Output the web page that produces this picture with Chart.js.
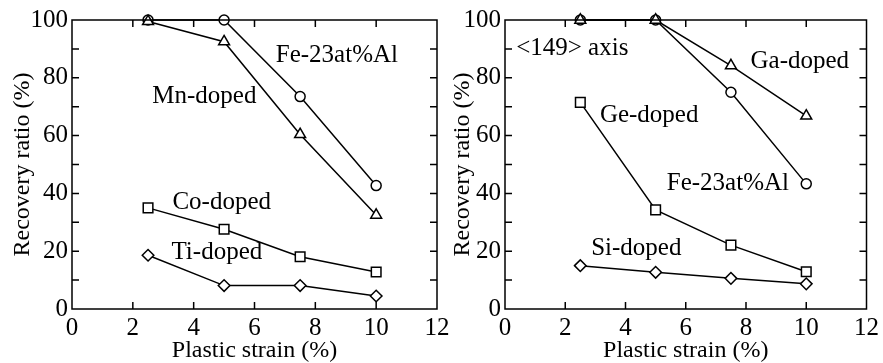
<!DOCTYPE html>
<html>
<head>
<meta charset="utf-8">
<script src="https://cdn.jsdelivr.net/npm/chart.js@4/dist/chart.umd.min.js"></script>
<style>
    body { margin: 0; background: #fff; }
    #wrap { position: relative; width: 883px; height: 363px; overflow: hidden; }
    #left { position: absolute; left: 0; top: 0; }
    #right { position: absolute; left: 440px; top: 0; }
</style>
</head>
<body>
<div id="wrap">
    <canvas id="left" width="470" height="363"></canvas>
    <canvas id="right" width="443" height="363"></canvas>
</div>
<script>
// plastic strain (%)
const strain = [2.5, 5, 7.5, 10];

// left panel
const leftFeAl = [100, 100, 73.5, 42.7];
const leftMn = [99.5, 92.5, 60.4, 32.5];
const leftCo = [35, 27.6, 18.1, 12.8];
const leftTi = [18.6, 8.1, 8.1, 4.5];

// right panel, <149> axis
const rightFeAl = [100, 100, 75, 43.3];
const rightGa = [100, 100, 84.2, 66.8];
const rightGe = [71.5, 34.3, 22.1, 12.9];
const rightSi = [15, 12.7, 10.6, 8.7];

const xTicks = [0, 2, 4, 6, 8, 10, 12];
const yTicks = [0, 20, 40, 60, 80, 100];

const leftLabels = [
    { text: "Fe-23at%Al", x: 6.7, y: 87.9 },
    { text: "Mn-doped", x: 2.64, y: 73.4 },
    { text: "Co-doped", x: 3.3, y: 37 },
    { text: "Ti-doped", x: 3.27, y: 19.7 }
];
const rightLabels = [
    { text: "<149> axis", x: 0.37, y: 90.3 },
    { text: "Ga-doped", x: 8.15, y: 85.5 },
    { text: "Ge-doped", x: 3.15, y: 67.1 },
    { text: "Fe-23at%Al", x: 5.37, y: 43.6 },
    { text: "Si-doped", x: 2.86, y: 21.1 }
];

const FONT = "Liberation Serif";

const markerSize = { circle: 5, triangle: 6.3, rect: 6.8, rectRot: 5.8 };

function toPoints(values) {
    return values.map((v, i) => ({ x: strain[i], y: v }));
}

function makeSet(values, style) {
    return {
        data: toPoints(values),
        borderColor: "#000",
        borderWidth: 1.5,
        pointStyle: style,
        pointRadius: markerSize[style],
        pointBackgroundColor: "#fff",
        pointBorderColor: "#000",
        pointBorderWidth: 1.5,
        tension: 0,
        clip: false
    };
}

// frame, inside ticks and text labels
const framePlugin = {
    id: "frame",
    afterDraw(chart, args, opts) {
        const ctx = chart.ctx;
        const a = chart.chartArea;
        const xs = chart.scales.x;
        const ys = chart.scales.y;
        const len = 7;
        ctx.save();
        ctx.strokeStyle = "#000";
        ctx.lineWidth = 1.5;
        ctx.strokeRect(a.left, a.top, a.right - a.left, a.bottom - a.top);
        ctx.beginPath();
        for (let v = 2; v < 12; v += 2) {
            const px = xs.getPixelForValue(v);
            ctx.moveTo(px, a.bottom);
            ctx.lineTo(px, a.bottom - len);
            ctx.moveTo(px, a.top);
            ctx.lineTo(px, a.top + len);
        }
        for (let v = 10; v < 100; v += 10) {
            const py = ys.getPixelForValue(v);
            ctx.moveTo(a.left, py);
            ctx.lineTo(a.left + len, py);
            ctx.moveTo(a.right, py);
            ctx.lineTo(a.right - len, py);
        }
        ctx.stroke();

        ctx.fillStyle = "#000";
        ctx.font = "25px '" + FONT + "', serif";
        ctx.textBaseline = "middle";
        ctx.textAlign = "left";
        opts.labels.forEach(l => {
            ctx.fillText(l.text, xs.getPixelForValue(l.x), ys.getPixelForValue(l.y));
        });
        ctx.restore();
    }
};

function drawPanel(id, datasets, labels, yWidth, padRight) {
    const ctx = document.getElementById(id).getContext("2d");
    return new Chart(ctx, {
        type: "line",
        data: { datasets },
        options: {
            responsive: false,
            animation: false,
            layout: { padding: { left: 0, right: padRight, top: 20, bottom: 0 } },
            plugins: {
                legend: { display: false },
                tooltip: { enabled: false },
                frame: { labels }
            },
            scales: {
                x: {
                    type: "linear",
                    min: 0,
                    max: 12,
                    afterBuildTicks: s => { s.ticks = xTicks.map(v => ({ value: v })); },
                    afterFit: s => { s.height = 54; },
                    grid: { display: false, drawTicks: false },
                    border: { display: false },
                    ticks: { color: "#000", padding: 4, maxRotation: 0, font: { family: FONT, size: 25 } },
                    title: {
                        display: true,
                        text: "Plastic strain (%)",
                        color: "#000",
                        padding: { top: 0, bottom: -2 },
                        font: { family: FONT, size: 24 }
                    }
                },
                y: {
                    min: 0,
                    max: 100,
                    afterBuildTicks: s => { s.ticks = yTicks.map(v => ({ value: v })); },
                    afterFit: s => { s.width = yWidth; },
                    grid: { display: false, drawTicks: false },
                    border: { display: false },
                    ticks: { color: "#000", padding: 4, font: { family: FONT, size: 25 } },
                    title: {
                        display: true,
                        text: "Recovery ratio (%)",
                        color: "#000",
                        padding: { top: 8, bottom: 0 },
                        font: { family: FONT, size: 24 }
                    }
                }
            }
        },
        plugins: [framePlugin]
    });
}

// first dataset is drawn on top
drawPanel("left", [
    makeSet(leftMn, "triangle"),
    makeSet(leftFeAl, "circle"),
    makeSet(leftCo, "rect"),
    makeSet(leftTi, "rectRot")
], leftLabels, 72, 33);

drawPanel("right", [
    makeSet(rightGa, "triangle"),
    makeSet(rightFeAl, "circle"),
    makeSet(rightGe, "rect"),
    makeSet(rightSi, "rectRot")
], rightLabels, 65, 11);
</script>
</body>
</html>
